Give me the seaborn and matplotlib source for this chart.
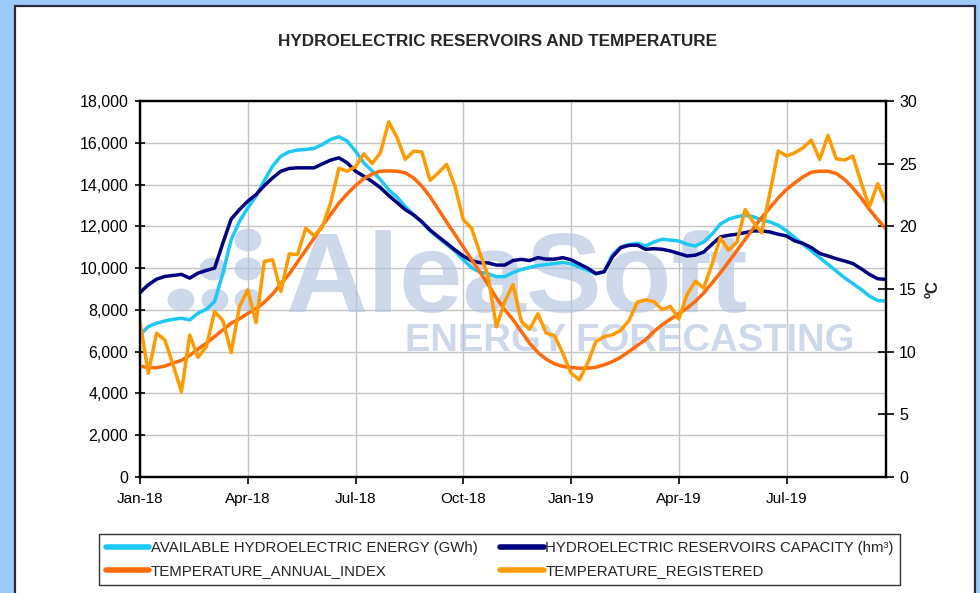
import numpy as np
import pandas as pd
import matplotlib
matplotlib.use("Agg")
import matplotlib.pyplot as plt
import seaborn as sns
from matplotlib.patches import Rectangle, Ellipse
from matplotlib.ticker import FuncFormatter, MultipleLocator

# ---------------- data (weekly, Jan-2018 .. Sep-2019) ----------------
dates = pd.date_range("2018-01-01", periods=91, freq="7D")
tick_labels = ["Jan-18", "Apr-18", "Jul-18", "Oct-18", "Jan-19", "Apr-19", "Jul-19"]

available_energy = [
    6800, 7200, 7360, 7470, 7550, 7600, 7520, 7840, 8030, 8400,
    9760, 11360, 12240, 12880, 13440, 14200, 14880, 15360, 15570, 15650,
    15680, 15730, 15920, 16160, 16290, 16080, 15600, 15040, 14650, 14240,
    13750, 13400, 12950, 12550, 12200, 11780, 11450, 11130, 10810, 10400,
    10020, 9810, 9730, 9590, 9590, 9790, 9930, 10030, 10120, 10170,
    10220, 10270, 10200, 10050, 9900, 9720, 9820, 10650, 11020, 11130,
    11190, 11060, 11250, 11380, 11340, 11300, 11140, 11060, 11250, 11620,
    12100, 12340, 12460, 12530, 12460, 12300, 12210, 12050, 11780, 11460,
    11140, 10820, 10500, 10180, 9860, 9540, 9260, 8980, 8660, 8450,
    8420]

reservoir_capacity = [
    8830, 9200, 9470, 9600, 9650, 9700, 9520, 9760, 9890, 10000,
    11200, 12350, 12800, 13200, 13520, 13950, 14320, 14640, 14770, 14800,
    14800, 14800, 14990, 15170, 15280, 15040, 14640, 14400, 14150, 13850,
    13480, 13140, 12800, 12550, 12220, 11820, 11500, 11190, 10870, 10580,
    10350, 10260, 10250, 10145, 10145, 10360, 10420, 10360, 10500, 10430,
    10430, 10500, 10400, 10200, 10000, 9740, 9830, 10540, 10980, 11090,
    11100, 10900, 10930, 10900, 10820, 10700, 10580, 10620, 10770, 11140,
    11490, 11570, 11620, 11700, 11780, 11780, 11730, 11620, 11540, 11300,
    11180, 10980, 10700, 10580, 10450, 10340, 10220, 9970, 9700, 9490,
    9460]

temp_annual_index = [
    8.85, 8.72, 8.72, 8.85, 9.1, 9.3, 9.7, 10.2, 10.68, 11.2,
    11.74, 12.27, 12.62, 13.05, 13.42, 13.95, 14.6, 15.4, 16.2, 17.15,
    18.1, 19.05, 20.05, 20.95, 21.85, 22.6, 23.25, 23.8, 24.17, 24.4,
    24.42, 24.4, 24.27, 23.87, 23.21, 22.36, 21.35, 20.33, 19.35, 18.36,
    17.35, 16.36, 15.35, 14.29, 13.35, 12.55, 11.61, 10.68, 9.94, 9.4,
    9.03, 8.82, 8.74, 8.68, 8.68, 8.76, 8.95, 9.21, 9.56, 10.01,
    10.5, 10.95, 11.61, 12.15, 12.6, 13.03, 13.48, 14.01, 14.68, 15.48,
    16.28, 17.15, 18.05, 18.95, 19.85, 20.7, 21.48, 22.27, 22.94, 23.47,
    23.95, 24.32, 24.4, 24.4, 24.22, 23.74, 23.07, 22.27, 21.34, 20.54,
    19.79]

temp_registered = [
    12.4, 8.27, 11.47, 10.93, 8.93, 6.8, 11.33, 9.55, 10.4, 13.2,
    12.48, 9.92, 13.6, 14.93, 12.32, 17.2, 17.33, 14.8, 17.8, 17.75,
    19.85, 19.25, 19.95, 21.88, 24.63, 24.4, 24.75, 25.79, 25.0, 25.87,
    28.33, 27.1, 25.34, 26.0, 25.94, 23.67, 24.27, 24.94, 23.2, 20.54,
    19.85, 17.88, 16.0, 11.98, 14.0, 15.35, 12.42, 11.78, 13.02, 11.48,
    11.28, 9.88, 8.3, 7.75, 9.09, 10.8, 11.2, 11.35, 11.7, 12.5,
    13.95, 14.14, 14.0, 13.35, 13.61, 12.6, 14.55, 15.62, 15.08, 16.95,
    19.08, 18.09, 18.73, 21.34, 20.33, 19.48, 22.7, 26.01, 25.61, 25.87,
    26.27, 26.88, 25.34, 27.26, 25.39, 25.29, 25.61, 23.48, 21.56, 23.4,
    21.88]

series_names = ["AVAILABLE HYDROELECTRIC ENERGY (GWh)",
                "HYDROELECTRIC RESERVOIRS CAPACITY (hm\u00b3)",
                "TEMPERATURE_ANNUAL_INDEX",
                "TEMPERATURE_REGISTERED"]
series_colors = ["#1EC8F5", "#000080", "#FF6A0A", "#FF9A00"]

# ---------------- figure ----------------
sns.set_style("white")
plt.rcParams["font.family"] = ["Liberation Sans", "DejaVu Sans"]

W, H = 980, 593
fig = plt.figure(figsize=(W / 100, H / 100), dpi=100)
fig.patch.set_facecolor("#9CCBFA")
fig.patches.append(Rectangle((15 / W, -0.1), (975 - 15) / W, 1.1 - 6 / H,
                             transform=fig.transFigure, facecolor="white",
                             edgecolor="#2B2B3A", linewidth=1.6, zorder=-5))

L, R, T, B = 140, 886, 101, 477
ax = fig.add_axes([L / W, 1 - B / H, (R - L) / W, (B - T) / H])
ax.set_facecolor("none")

# watermark (semi-transparent, over the grid, under the lines)
wm = "#AFC2E0"
wa = 0.62
ax.text(0.504, 0.44, "AleaSoft", transform=ax.transAxes, ha="center",
        va="baseline", fontsize=82, fontweight="bold", color=wm, alpha=wa,
        zorder=1.5)
ax.text(0.657, 0.335, "ENERGY FORECASTING", transform=ax.transAxes,
        ha="center", va="baseline", fontsize=27.5, fontweight="bold",
        color=wm, alpha=wa, zorder=1.5)
for cx, cy in [(248, 240), (213, 269), (248, 269), (181, 300), (215, 300), (248, 300)]:
    ax.add_patch(Ellipse(((cx - L) / (R - L), (B - cy) / (B - T)),
                         27 / (R - L), 23 / (B - T), transform=ax.transAxes,
                         facecolor=wm, alpha=wa, edgecolor="none", zorder=1.5))

sns.lineplot(x=dates, y=available_energy, ax=ax, color=series_colors[0],
             linewidth=2.5, label=series_names[0], legend=False, zorder=3)
sns.lineplot(x=dates, y=reservoir_capacity, ax=ax, color=series_colors[1],
             linewidth=2.5, label=series_names[1], legend=False, zorder=3)

ax.set_ylim(0, 18000)
ax.yaxis.set_major_locator(MultipleLocator(2000))
ax.yaxis.set_major_formatter(FuncFormatter(lambda v, p: f"{int(v):,}"))
ax.set_xlim(dates[0], dates[-1])
ax.set_xticks(dates[::13])
ax.set_xticklabels(tick_labels)
ax.grid(True, color="#C4C4C4", linewidth=1.0, zorder=1)
ax.set_axisbelow(True)
ax.set_xlabel("")
ax.set_ylabel("")
ax.tick_params(axis="y", direction="inout", length=7, width=1.2, labelsize=11.5,
               pad=5, colors="black", left=True)
ax.tick_params(axis="x", direction="out", length=5, width=1.2, labelsize=11,
               pad=6, colors="black", bottom=True)

ax2 = ax.twinx()
sns.lineplot(x=dates, y=temp_annual_index, ax=ax2, color=series_colors[2],
             linewidth=2.5, label=series_names[2], legend=False)
sns.lineplot(x=dates, y=temp_registered, ax=ax2, color=series_colors[3],
             linewidth=2.5, label=series_names[3], legend=False)
ax2.set_ylim(0, 30)
ax2.yaxis.set_major_locator(MultipleLocator(5))
ax2.tick_params(axis="y", direction="inout", length=11, width=1.2,
                labelsize=11.5, pad=4, colors="black", right=True)
ax2.set_ylabel("\u00baC", fontsize=12, fontweight="bold", rotation=90,
               labelpad=6)
ax2.set_xlim(dates[0], dates[-1])
ax2.grid(False)

for a in (ax, ax2):
    for s in a.spines.values():
        s.set_visible(True)
        s.set_color("black")
        s.set_linewidth(1.6)

fig.text(497 / W, 1 - 42 / H, "HYDROELECTRIC RESERVOIRS AND TEMPERATURE",
         ha="center", va="center", fontsize=12.3, fontweight="bold")

# legend: row 1 = energy, capacity ; row 2 = annual index, registered
l1, l2 = ax.get_lines()[:2]
l3, l4 = ax2.get_lines()[:2]
handles = [l1, l3, l2, l4]
labels = [series_names[0], series_names[2], series_names[1], series_names[3]]
leg = fig.legend(handles, labels, loc="center left", ncol=2,
                 bbox_to_anchor=(99 / W, 1 - 559.5 / H),
                 fontsize=10.8, frameon=True, fancybox=False,
                 edgecolor="black", handlelength=2.9, handletextpad=0.1,
                 borderpad=0.45, labelspacing=0.62, borderaxespad=0.0,
                 columnspacing=1.5)
leg.get_frame().set_linewidth(1.0)
for ln in leg.get_lines():
    ln.set_linewidth(4)

fig.savefig("out.png", dpi=100)
